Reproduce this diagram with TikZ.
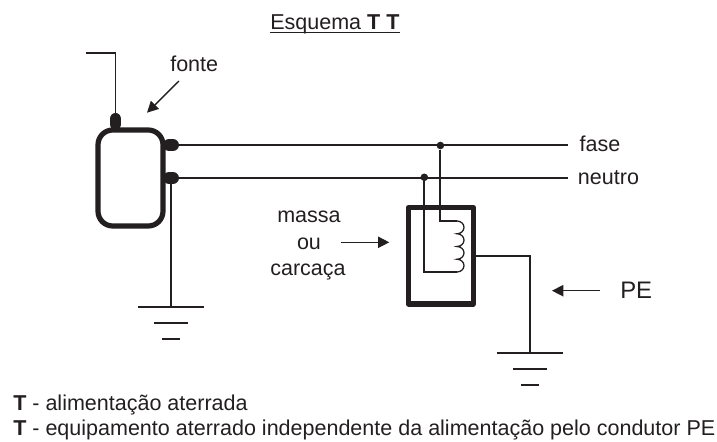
\documentclass[tikz,border=0pt]{standalone}
\usepackage{fontspec}
\setmainfont{Liberation Sans}
\usetikzlibrary{arrows.meta}
\definecolor{tinta}{RGB}{35,31,32}
\begin{document}
\begin{tikzpicture}[x=0.025cm,y=-0.025cm,color=tinta,
  wire/.style={line width=1.4pt},
  heavy/.style={line width=3.7pt,line join=round},
  lug/.style={line width=8.5pt,line cap=round},
  pointer/.style={line width=1pt,-{Triangle[length=8pt,width=8pt]}},
  label/.style={anchor=base,inner sep=0pt,font=\fontsize{15.3}{18}\selectfont},
  leftlabel/.style={label,anchor=base west},
  junction/.style={circle,fill=tinta,minimum size=5.4pt,inner sep=0pt}]
  \useasboundingbox (0,0) rectangle (717,441);

  \node[leftlabel] (title) at (270,29) {Esquema \textbf{T T}};
  \draw[line width=0.9pt] ([yshift=-2.4pt]title.base west) -- ([yshift=-2.4pt]title.base east);

  % fonte
  \coordinate (antenaend) at (85.5,52.7);
  \coordinate (antenacorner) at (115.5,52.7);
  \coordinate (antenalug) at (115.5,119);
  \coordinate (antenabase) at (115.5,124);
  \draw[heavy,rounded corners=10.5pt] (98,130) rectangle (163,226);
  \draw[wire] (antenaend) -- (antenacorner) -- (antenalug);
  \draw[lug] (antenalug) -- (antenabase);
  \node[leftlabel] (fontelabel) at (170,71.7) {fonte};
  \coordinate (fontetail) at (179,81);
  \coordinate (fontetip) at (147,112.7);
  \draw[pointer] (fontetail) -- (fontetip);

  % fase e neutro
  \coordinate (faselug) at (173,145);
  \coordinate (faseroot) at (169,145);
  \coordinate (neutrolug) at (173,178);
  \coordinate (neutroroot) at (169,178);
  \coordinate (faseend) at (568,145);
  \coordinate (neutroend) at (568,178);
  \draw[lug] (faseroot) -- (faselug);
  \draw[lug] (neutroroot) -- (neutrolug);
  \draw[wire] (faselug) -- (faseend);
  \draw[wire] (neutrolug) -- (neutroend);
  \node[leftlabel] (faselabel) at (579.3,151.7) {fase};
  \node[leftlabel] (neutrolabel) at (577.7,184) {neutro};

  % terra da fonte
  \coordinate (terraA) at (171,178);
  \coordinate (terraAbar) at (171,306.7);
  \draw[wire] (terraA) -- (terraAbar);
  \draw[wire] (138,307) -- (204,307);
  \draw[wire] (154,323) -- (188,323);
  \draw[wire] (162,339) -- (180,339);

  % massa
  \draw[heavy] (408.3,207.7) rectangle (473.3,304);
  \node[label] (massalabel) at (309,222.7) {massa};
  \node[label] (oulabel) at (309,249) {ou};
  \node[label] (carcacalabel) at (308,275) {carcaça};
  \coordinate (massatail) at (341,242.3);
  \coordinate (massatip) at (389.3,242.3);
  \draw[pointer] (massatail) -- (massatip);

  % bobina
  \node[junction] (fasedot) at (440.4,145.5) {};
  \node[junction] (neutrodot) at (424.3,177.3) {};
  \coordinate (coiltop) at (457,221);
  \coordinate (coilbottom) at (457,272);
  \draw[wire] (fasedot) |- (coiltop);
  \draw[wire] (neutrodot) |- (coilbottom);
  \draw[line width=0.9pt] (coiltop)
    arc[start angle=-90,end angle=90,x radius=7,y radius=6.375]
    arc[start angle=-90,end angle=90,x radius=7,y radius=6.375]
    arc[start angle=-90,end angle=90,x radius=7,y radius=6.375]
    arc[start angle=-90,end angle=90,x radius=7,y radius=6.375];

  % terra do equipamento
  \coordinate (saida) at (473.3,256);
  \coordinate (saidacorner) at (530,256);
  \coordinate (terraBbar) at (530,353);
  \draw[wire] (saida) -- (saidacorner) -- (terraBbar);
  \draw[wire] (496.5,353) -- (563,353);
  \draw[wire] (513,369) -- (547,369);
  \draw[wire] (521,385) -- (539,385);

  % PE
  \node[leftlabel,font=\fontsize{17}{20}\selectfont] (pelabel) at (620,298.3) {PE};
  \coordinate (petail) at (600,290.7);
  \coordinate (petip) at (552,290.7);
  \draw[pointer] (petail) -- (petip);

  \node[leftlabel] (legendaA) at (13,410) {\textbf{T} - alimentação aterrada};
  \node[leftlabel] (legendaB) at (13,435) {\textbf{T} - equipamento aterrado independente da alimentação pelo condutor PE};
\end{tikzpicture}
\end{document}
